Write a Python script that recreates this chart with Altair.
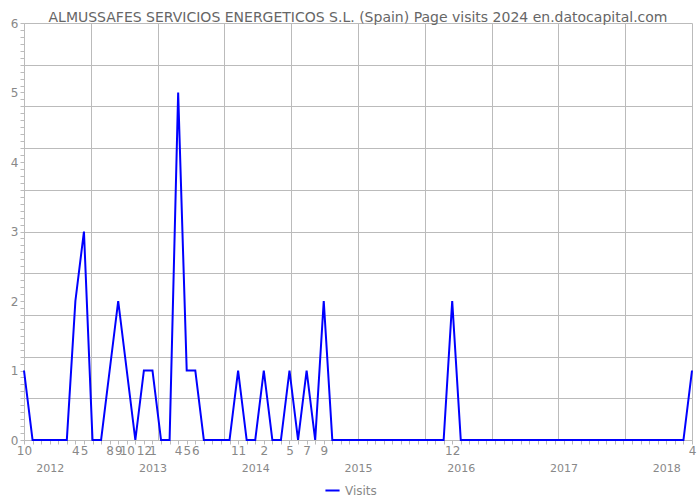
import altair as alt
import pandas as pd

# Monthly page visits, Oct 2011 .. Apr 2018
start_month = "2011-10"
end_month = "2018-04"
visits = [1, 0, 0, 0, 0, 0, 2, 3, 0, 0, 1, 2, 1, 0, 1, 1, 0, 0, 5, 1,
          1, 0, 0, 0, 0, 1, 0, 0, 1, 0, 0, 1, 0, 1, 0, 2, 0,
          0, 0, 0, 0, 0, 0, 0, 0, 0, 0, 0, 0, 0,
          2,
          0, 0, 0, 0, 0, 0, 0, 0, 0, 0, 0, 0, 0, 0, 0, 0, 0, 0, 0, 0, 0, 0, 0, 0, 0, 0, 0,
          1]
series_name = "Visits"
title_text = "ALMUSSAFES SERVICIOS ENERGETICOS S.L. (Spain) Page visits 2024 en.datocapital.com"

months = pd.period_range(start_month, end_month, freq="M")
df = pd.DataFrame({
    "idx": range(len(months)),
    "month": [m.month for m in months],
    "year": [m.year for m in months],
    "visits": visits,
    "series": series_name,
})

n = len(months) - 1
month_label_idx = [int(i) for i in df.loc[df.visits > 0, "idx"]]
year_idx = [int(i) for i in df.loc[df.month == 1, "idx"]]
all_month_idx = list(range(len(months)))
grid_x = [n * k / 10 for k in range(11)]
grid_y = [round(0.6 * k, 2) for k in range(11)]
minor_y = [round(0.1 * k, 2) for k in range(61)]
label_y = [0, 1, 2, 3, 4, 5, 6]

GRID = "#bbbbbb"
LABEL = "#888888"
FONT = "DejaVu Sans"

xs = alt.Scale(domain=[0, n], nice=False, zero=False)
ys = alt.Scale(domain=[0, 6], nice=False)

base = alt.Chart(df)

line = base.mark_line(strokeWidth=2).encode(
    x=alt.X("idx:Q", scale=xs, axis=alt.Axis(orient="bottom", values=grid_x, grid=True, gridColor=GRID,
                                             labels=False, ticks=False, domain=True, domainColor=GRID, title=None)),
    y=alt.Y("visits:Q", scale=ys, axis=alt.Axis(orient="left", values=grid_y, grid=True, gridColor=GRID,
                                                labels=False, ticks=False, domain=True, domainColor=GRID, title=None)),
    color=alt.Color("series:N", scale=alt.Scale(range=["#0000ff"]),
                    legend=alt.Legend(orient="none", legendX=300, legendY=459, title=None,
                                      symbolType="stroke", symbolStrokeWidth=2, symbolSize=200,
                                      labelColor=LABEL, labelFontSize=12, labelFont=FONT)),
)

minor = base.mark_line(opacity=0).encode(
    x=alt.X("idx:Q", scale=xs, axis=alt.Axis(orient="bottom", values=all_month_idx, grid=False, labels=False,
                                             ticks=True, tickSize=4, tickColor=GRID, domain=False, title=None)),
    y=alt.Y("visits:Q", scale=ys, axis=alt.Axis(orient="left", values=minor_y, grid=False, labels=False,
                                                ticks=True, tickSize=4, tickColor=GRID, domain=False, title=None)),
)

labels = base.mark_line(opacity=0).encode(
    x=alt.X("idx:Q", scale=xs, axis=alt.Axis(orient="bottom", values=month_label_idx, grid=False, ticks=False,
                                             domain=False, title=None, labelPadding=5, labelColor=LABEL,
                                             labelFontSize=12, labelFont=FONT, labelOverlap=False,
                                             labelBound=False, labelFlush=False,
                                             labelExpr="(datum.value + 9) % 12 + 1")),
    y=alt.Y("visits:Q", scale=ys, axis=alt.Axis(orient="left", values=label_y, grid=False, ticks=False,
                                                domain=False, title=None, labelPadding=6, labelColor=LABEL,
                                                labelFontSize=12, labelFont=FONT)),
)

years = base.mark_line(opacity=0).encode(
    x=alt.X("idx:Q", scale=xs, axis=alt.Axis(orient="bottom", values=year_idx, grid=False, ticks=False,
                                             domain=False, title=None, labelPadding=22, labelColor=LABEL,
                                             labelFontSize=11, labelFont=FONT, labelOverlap=False,
                                             labelExpr="2011 + floor((datum.value + 9) / 12)")),
    y=alt.Y("visits:Q", scale=ys, axis=None),
)

chart = alt.layer(line, minor, labels, years).resolve_axis(
    x="independent", y="independent"
).properties(
    width=668, height=417,
    title=alt.Title(title_text, fontSize=14, font=FONT, fontWeight="normal", color="#666666",
                    offset=0, dy=8, frame="group"),
    autosize=alt.AutoSizeParams(type="none"),
    padding={"left": 24, "top": 23, "right": 8, "bottom": 60},
).configure_view(stroke=None)

chart.save("out.html", embed_options={"renderer": "svg", "actions": False})
